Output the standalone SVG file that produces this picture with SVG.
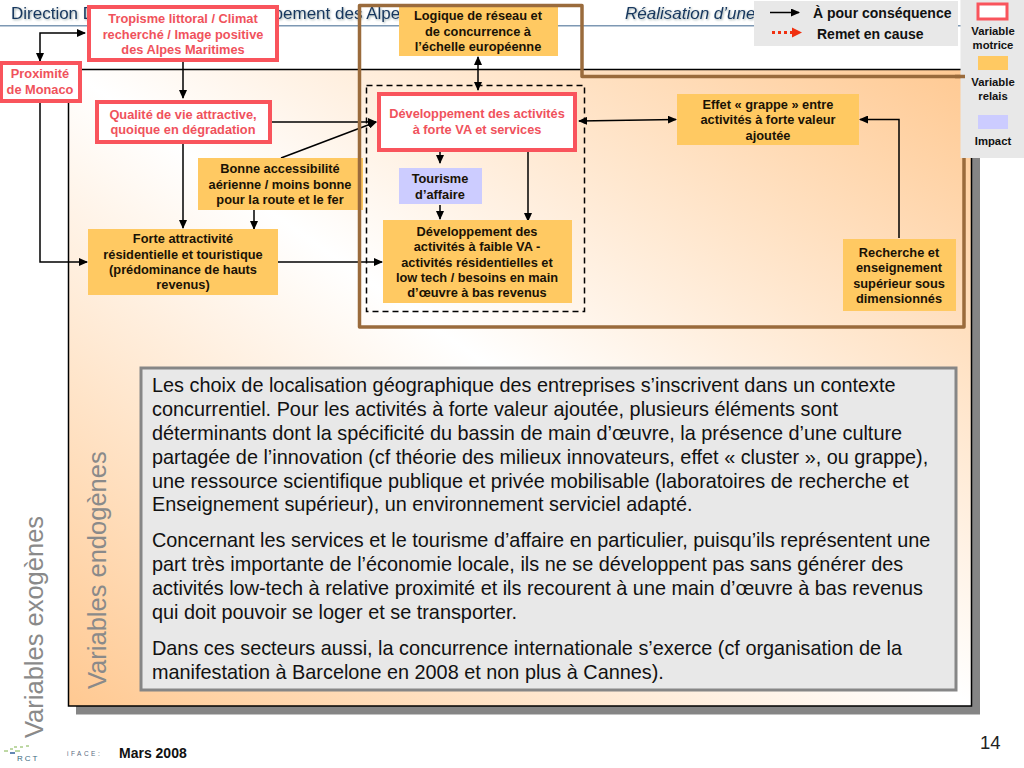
<svg xmlns="http://www.w3.org/2000/svg" width="1024" height="768" viewBox="0 0 1024 768">
<style>
text{font-family:"Liberation Sans",Arial,sans-serif}
.t{font-size:12.800px;font-weight:700;text-anchor:middle;fill:#1a1205}
.m{font-size:12.800px;font-weight:700;text-anchor:middle;fill:#f0525c}
.o{fill:#ffc962}
.r{fill:#fff;stroke:#f9545c;stroke-width:4}
.c{fill:none;stroke:#000;stroke-width:1.500}
.p{font-size:19.850px;fill:#111}
.h{font-size:17px;fill:#17375e;filter:drop-shadow(1px 1px 1px #9aa)}
.v{font-size:25.500px;fill:#8a8a8a}
.l{font-size:11.300px;font-weight:700;text-anchor:middle;fill:#111}
</style>
<defs>
<linearGradient id="bg" x1="1" y1="0" x2="0" y2="1">
<stop offset="0" stop-color="#ffc992"/><stop offset=".5" stop-color="#fff"/><stop offset="1" stop-color="#ffc992"/>
</linearGradient>
<marker id="a" markerWidth="9" markerHeight="8" refX="8" refY="4" orient="auto-start-reverse" markerUnits="userSpaceOnUse"><path d="M0 0L9 4L0 8z" fill="#000"/></marker>
<marker id="b" markerWidth="10" markerHeight="10" refX="9" refY="5" orient="auto" markerUnits="userSpaceOnUse"><path d="M0 0L10 5L0 10z" fill="#f03010"/></marker>
</defs>
<rect width="1024" height="768" fill="#fff"/>
<g id="title">
<text class="h" x="11" y="19">Direction D</text>
<text class="h" x="273.600" y="19">pement des Alpe</text>
<text class="h" x="625" y="19" font-style="italic">Réalisation d’une</text>
<rect x="0" y="25" width="1024" height="1.500" fill="#7d98b3"/>
</g>
<g id="panel">
<rect x="76" y="77" width="904" height="637.500" fill="#858585"/>
<rect x="68.500" y="69.500" width="903" height="636.500" fill="url(#bg)" stroke="#000" stroke-width="1.500"/>
</g>
<text class="v" transform="translate(43,738) rotate(-90)">Variables exogènes</text>
<text class="v" transform="translate(106,689) rotate(-90)">Variables endogènes</text>
<g id="texte">
<rect x="141" y="368" width="815" height="322" fill="#e8e8e8" stroke="#868686" stroke-width="3"/>
<text class="p"><tspan x="152" y="392">Les choix de localisation géographique des entreprises s’inscrivent dans un contexte</tspan><tspan x="152" y="416">concurrentiel. Pour les activités à forte valeur ajoutée, plusieurs éléments sont</tspan><tspan x="152" y="440">déterminants dont la spécificité du bassin de main d’œuvre, la présence d’une culture</tspan><tspan x="152" y="464">partagée de l’innovation (cf théorie des milieux innovateurs, effet « cluster », ou grappe),</tspan><tspan x="152" y="488">une ressource scientifique publique et privée mobilisable (laboratoires de recherche et</tspan><tspan x="152" y="511">Enseignement supérieur), un environnement serviciel adapté.</tspan><tspan x="152" y="547">Concernant les services et le tourisme d’affaire en particulier, puisqu’ils représentent une</tspan><tspan x="152" y="571">part très importante de l’économie locale, ils ne se développent pas sans générer des</tspan><tspan x="152" y="595">activités low-tech à relative proximité et ils recourent à une main d’œuvre à bas revenus</tspan><tspan x="152" y="619">qui doit pouvoir se loger et se transporter.</tspan><tspan x="152" y="655">Dans ces secteurs aussi, la concurrence internationale s’exerce (cf organisation de la</tspan><tspan x="152" y="679">manifestation à Barcelone en 2008 et non plus à Cannes).</tspan></text>
</g>
<g id="connectors">
<path class="c" d="M40 61V33H85" marker-end="url(#a)" marker-start="url(#a)"/>
<path class="c" d="M183 62V98" marker-end="url(#a)"/>
<path class="c" d="M183 143V228" marker-end="url(#a)"/>
<path class="c" d="M40 103V262H87" marker-end="url(#a)"/>
<path class="c" d="M271 122H376" marker-end="url(#a)"/>
<path class="c" d="M281 158L376 122" marker-end="url(#a)"/>
<path class="c" d="M254 210V229" marker-end="url(#a)"/>
<path class="c" d="M278 262H382" marker-end="url(#a)"/>
<path class="c" d="M478 57V90" marker-start="url(#a)" marker-end="url(#a)"/>
<path class="c" d="M440 152V163" marker-end="url(#a)"/>
<path class="c" d="M440 205V219" marker-end="url(#a)"/>
<path class="c" d="M528 150V221" marker-end="url(#a)"/>
<path class="c" d="M579 121L676 119.500" marker-start="url(#a)" marker-end="url(#a)"/>
<path class="c" d="M899 238V119.500H860" marker-end="url(#a)"/>
</g>
<g id="n1"><rect class="r" x="89" y="7" width="188" height="53"/><text class="m"><tspan x="183" y="23">Tropisme littoral / Climat</tspan><tspan x="183" y="38.500">recherché / Image positive</tspan><tspan x="183" y="54">des Alpes Maritimes</tspan></text></g>
<g id="n2"><rect class="r" x="1" y="63" width="79" height="38"/><text class="m"><tspan x="40" y="78">Proximité</tspan><tspan x="40" y="94">de Monaco</tspan></text></g>
<g id="n3"><rect class="r" x="97" y="102" width="173" height="40"/><text class="m"><tspan x="183" y="119">Qualité de vie attractive,</tspan><tspan x="183" y="134">quoique en dégradation</tspan></text></g>
<g id="n4"><rect class="o" x="198" y="158" width="165" height="52"/><text class="t"><tspan x="280" y="173">Bonne accessibilité</tspan><tspan x="280" y="189">aérienne / moins bonne</tspan><tspan x="280" y="204">pour la route et le fer</tspan></text></g>
<g id="n5"><rect class="o" x="88" y="229" width="190" height="66"/><text class="t"><tspan x="183" y="243">Forte attractivité</tspan><tspan x="183" y="259">résidentielle et touristique</tspan><tspan x="183" y="274">(prédominance de hauts</tspan><tspan x="183" y="289">revenus)</tspan></text></g>
<g id="n6"><rect class="o" x="399" y="5" width="159" height="51"/><text class="t"><tspan x="478" y="20">Logique de réseau et</tspan><tspan x="478" y="36">de concurrence à</tspan><tspan x="478" y="51">l’échelle européenne</tspan></text></g>
<g id="n7"><rect class="r" x="379" y="94" width="196" height="56"/><text class="m"><tspan x="477" y="118">Développement des activités</tspan><tspan x="477" y="134">à forte VA et services</tspan></text></g>
<g id="n8"><rect x="399" y="168" width="83" height="36" fill="#ccccff"/><text class="t"><tspan x="440" y="183">Tourisme</tspan><tspan x="440" y="199">d’affaire</tspan></text></g>
<g id="n9"><rect class="o" x="383" y="220" width="189" height="83"/><text class="t"><tspan x="477" y="236">Développement des</tspan><tspan x="477" y="251">activités à faible VA -</tspan><tspan x="477" y="267">activités résidentielles et</tspan><tspan x="477" y="282">low tech / besoins en main</tspan><tspan x="477" y="297">d’œuvre à bas revenus</tspan></text></g>
<g id="n10"><rect class="o" x="677" y="94" width="182" height="51"/><text class="t"><tspan x="768" y="109">Effet « grappe » entre</tspan><tspan x="768" y="124">activités à forte valeur</tspan><tspan x="768" y="140">ajoutée</tspan></text></g>
<g id="n11"><rect class="o" x="843" y="239" width="113" height="72"/><text class="t"><tspan x="899" y="257">Recherche et</tspan><tspan x="899" y="272">enseignement</tspan><tspan x="899" y="288">supérieur sous</tspan><tspan x="899" y="303">dimensionnés</tspan></text></g>
<g id="frames">
<path d="M359.500 5.500H582V76.500H964V327H359.500Z" fill="none" stroke="#9a6b3c" stroke-width="3.500" stroke-linejoin="round"/>
<rect x="366.500" y="85.500" width="218" height="226" fill="none" stroke="#000" stroke-width="1.500" stroke-dasharray="6 4"/>
</g>
<g id="legend">
<rect x="754" y="1" width="204" height="45" fill="#e8e8e8"/>
<rect x="960.500" y="0" width="63.500" height="158" fill="#e8e8e8"/>
<path d="M955 76.500H965" stroke="#9a6b3c" stroke-width="3.500"/>
<path class="c" d="M770 12.500H799" marker-end="url(#a)"/>
<path d="M772 32.500H793" fill="none" stroke="#f03010" stroke-width="3" stroke-dasharray="3 3"/>
<path d="M792 27.500L802 32.500L792 37.500z" fill="#f03010"/>
<text x="813" y="18" font-size="14" font-weight="700" fill="#111">À pour conséquence</text>
<text x="817" y="39" font-size="14" font-weight="700" fill="#111">Remet en cause</text>
<rect x="978" y="4" width="29" height="15" fill="#fff" stroke="#f9545c" stroke-width="3"/>
<text class="l"><tspan x="993" y="35">Variable</tspan><tspan x="993" y="49">motrice</tspan></text>
<rect class="o" x="978" y="56" width="30" height="14"/>
<text class="l"><tspan x="993" y="86">Variable</tspan><tspan x="993" y="100">relais</tspan></text>
<rect x="978" y="115" width="30" height="14" fill="#ccccff"/>
<text class="l" x="993" y="145">Impact</text>
</g>
<g id="footer">
<text x="119" y="758" font-size="14" font-weight="700" fill="#111">Mars 2008</text>
<text x="980" y="749" font-size="18.500" fill="#222">14</text>
<path d="M4 751h4M10 749h3M15 751h5M14 747h3M20 747h3M26 746h3" stroke="#7fb24a" stroke-width="1"/>
<path d="M10 753h5" stroke="#2f5f9a" stroke-width="1.500"/>
<text x="17" y="761" font-size="8" letter-spacing="2" fill="#3a6a80">RCT</text>
<text x="67" y="756" font-size="6.500" letter-spacing="2.500" fill="#5a6a80">iFACE:</text>
</g>
</svg>
